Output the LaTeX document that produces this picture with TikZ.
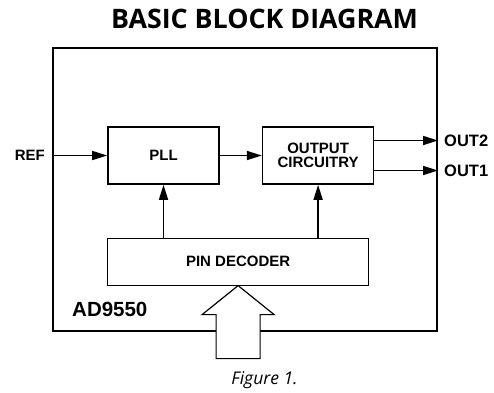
\documentclass[tikz,border=0pt]{standalone}
\usepackage{fontspec}
\setmainfont{Liberation Sans}
\newfontfamily\headfont{Open Sans}
\usetikzlibrary{positioning, arrows.meta}

\begin{document}
\begin{tikzpicture}[
    x=1pt, y=-1pt,
    % Blocks inside the chip
    block/.style={
        draw,
        line width=1.6pt,
        rectangle,
        minimum width=111pt,
        minimum height=57pt,
        inner sep=0pt,
        font=\bfseries\fontsize{15}{14.5}\selectfont,
        align=center
    },
    thinblock/.style={block, line width=0.8pt, minimum width=261pt, minimum height=47pt},
    chipbox/.style={draw, line width=2pt, minimum width=384pt, minimum height=283pt, inner sep=0pt},
    lbl/.style={font=\bfseries\fontsize{15}{15}\selectfont, inner sep=0pt},
    outlbl/.style={lbl, font=\bfseries\fontsize{16.5}{16.5}\selectfont},
    arr/.style={-{Triangle[length=15pt, width=9pt]}, line width=1.6pt},
    hollow/.style={draw, fill=white, line width=1.2pt, line join=miter}
]
    \useasboundingbox[fill=white] (0,0) rectangle (494,392);

    % --- Nodes ---
    \node[font=\headfont\bfseries\fontsize{26.8}{27}\selectfont] (title) at (264.5,19) {BASIC BLOCK DIAGRAM};
    \node[chipbox] (chip) at (245,189.5) {};

    \node[block] (pll) at (163.5,155.5) {PLL};
    \node[block, right=42pt of pll] (out) {OUTPUT\\CIRCUITRY};
    \node[thinblock, below=53pt of pll.south west, anchor=north west] (dec) {PIN DECODER};

    \node[lbl, anchor=east] (ref) at ([xshift=-7pt]pll.west -| chip.west) {REF};
    \node[outlbl, anchor=west] (out2) at ([xshift=6pt, yshift=15pt]out.east -| chip.east) {OUT2};
    \node[outlbl, anchor=west] (out1) at ([xshift=6pt, yshift=-15pt]out.east -| chip.east) {OUT1};
    \node[lbl, anchor=west, font=\bfseries\fontsize{20.5}{20.5}\selectfont] (part) at (72,309.5) {AD9550};

    \node[font=\headfont\itshape\fontsize{17.5}{17.5}\selectfont] (fig) at (264.5,380) {Figure 1.};

    % --- Edges ---
    \draw[arr] (pll.west -| chip.west) -- (pll.west);
    \draw[arr] (pll) -- (out);
    \draw[arr] ([yshift=15pt]out.east) -- ([yshift=15pt]out.east -| chip.east);
    \draw[arr] ([yshift=-15pt]out.east) -- ([yshift=-15pt]out.east -| chip.east);

    % Decoder controls both blocks
    \draw[arr] (dec.north -| pll) -- (pll.south);
    \draw[arr] (dec.north -| out) -- (out.south);

    % Input bus arrow into the decoder
    \draw[hollow] (dec.south) -- ++(-36,29) -- ++(14,0) -- ++(0,44) -- ++(44,0)
        -- ++(0,-44) -- ++(14,0) -- cycle;

\end{tikzpicture}
\end{document}
